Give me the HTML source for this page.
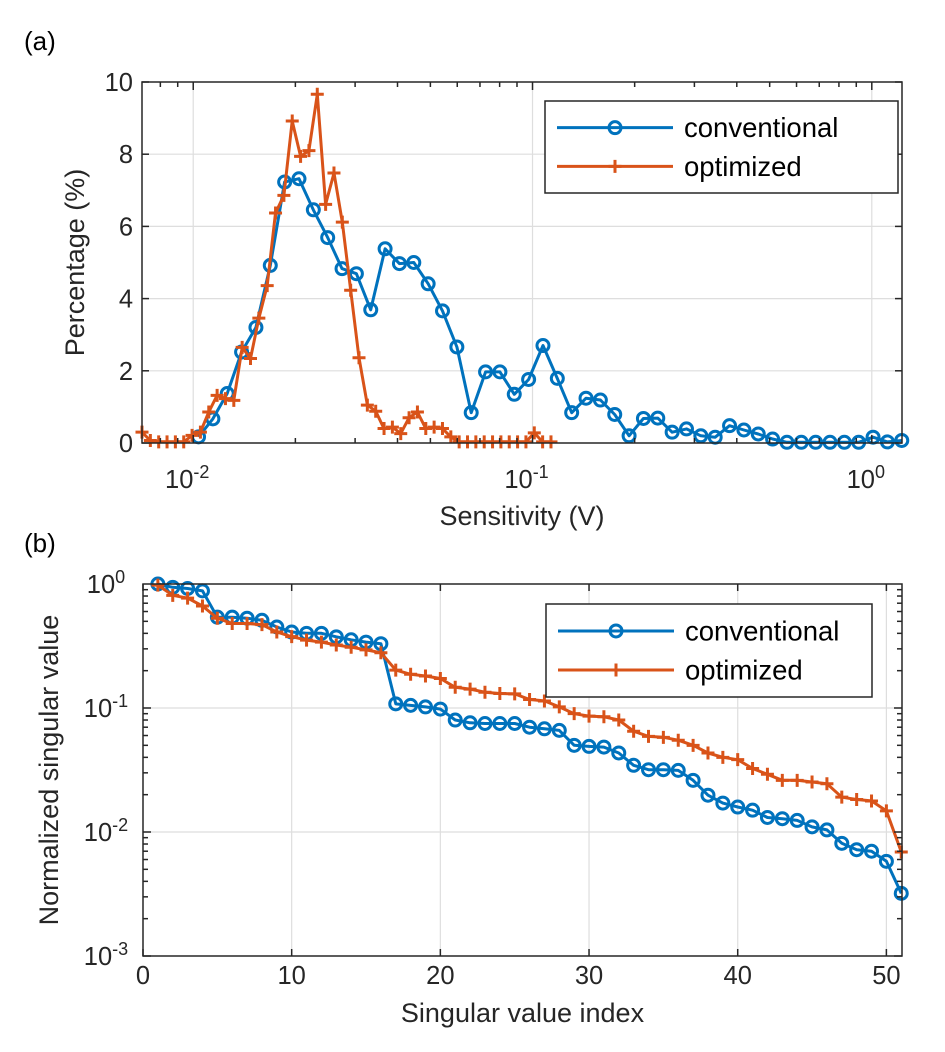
<!DOCTYPE html>
<html><head><meta charset="utf-8">
<style>
html,body{margin:0;padding:0;background:#fff;}
svg{display:block;font-family:"Liberation Sans",Arial,sans-serif;}
</style></head>
<body>
<svg id="fig" width="945" height="1052" viewBox="0 0 945 1052" xmlns="http://www.w3.org/2000/svg">
<rect width="945" height="1052" fill="#fff"/>
<text x="24" y="50" font-size="26" fill="#000">(a)</text>
<text x="24" y="552" font-size="26" fill="#000">(b)</text>
<g id="pa"></g>
<g id="pb"></g>
</svg>
<script>
// ---- Panel (a) data ----
const aConvStartLog = -1.9844, aConvStepLog = 0.0423;
const aOptStartLog = -2.151, aOptStepLog = 0.0246;
const aConv = [0.17,0.67,1.37,2.52,3.2,4.92,7.23,7.32,6.46,5.69,4.83,4.69,3.69,5.38,4.97,5.0,4.41,3.66,2.66,0.84,1.97,1.97,1.35,1.76,2.7,1.79,0.84,1.24,1.19,0.79,0.2,0.68,0.69,0.3,0.39,0.2,0.16,0.48,0.36,0.25,0.11,0.02,0.02,0.02,0.02,0.02,0.02,0.16,0.03,0.07];
const aOpt = [0.30,0.07,0.03,0.03,0.03,0.03,0.21,0.30,0.86,1.32,1.23,1.18,2.65,2.34,3.46,4.36,6.37,6.86,8.92,7.94,8.10,9.66,6.61,7.48,6.12,4.23,2.36,1.05,0.88,0.40,0.44,0.26,0.70,0.86,0.40,0.44,0.40,0.17,0.03,0.03,0.03,0.03,0.03,0.03,0.03,0.03,0.03,0.28,0.03,0.03];
const aYTicks = [0,2,4,6,8,10];
const aXTickExps = [-2,-1,0];
// ---- Panel (b) data ----
const bIndex = Array.from({length:51},(_,i)=>i+1);
const bConv = [1.0,0.94,0.92,0.88,0.54,0.54,0.53,0.51,0.45,0.41,0.40,0.40,0.375,0.355,0.34,0.33,0.108,0.105,0.102,0.098,0.080,0.076,0.075,0.075,0.075,0.070,0.068,0.066,0.050,0.049,0.0484,0.0434,0.0345,0.0318,0.0318,0.0314,0.0261,0.0198,0.0171,0.0159,0.0150,0.0131,0.0128,0.0124,0.0110,0.0104,0.0081,0.0072,0.0070,0.0058,0.0032];
const bOpt = [0.98,0.81,0.77,0.665,0.53,0.48,0.48,0.47,0.41,0.376,0.353,0.34,0.322,0.309,0.294,0.279,0.202,0.187,0.181,0.173,0.147,0.142,0.134,0.131,0.13,0.117,0.114,0.102,0.090,0.086,0.085,0.080,0.065,0.059,0.058,0.055,0.050,0.0434,0.040,0.0383,0.0325,0.0292,0.0261,0.0261,0.0253,0.0245,0.0191,0.0183,0.0178,0.0148,0.0069];
const bXTicks = [0,10,20,30,40,50];
const bYTickExps = [0,-1,-2,-3];

const NS="http://www.w3.org/2000/svg";
const BLUE="#0072BD", ORANGE="#D95319", AX="#262626", GRID="#dedede";
const TICKFS=25.5, TITLEFS=27, LEGFS=27.5;
function mk(tag, attrs, parent){const e=document.createElementNS(NS,tag);for(const k in attrs)e.setAttribute(k,attrs[k]);parent.appendChild(e);return e;}

function drawSeries(g, xs, ys, X, Y, color, marker, name){
  const sg=mk('g',{},g);
  
  
  const pts=xs.map((x,i)=>X(x).toFixed(1)+','+Y(ys[i]).toFixed(1)).join(' ');
  const pl=mk('polyline',{points:pts,fill:'none',stroke:color,'stroke-width':3,'stroke-linejoin':'round'},sg);
  
  
  xs.forEach((x,i)=>{
    const cx=X(x), cy=Y(ys[i]);
    let m;
    if(marker==='o'){ m=mk('circle',{cx:cx,cy:cy,r:6,fill:'none',stroke:color,'stroke-width':3},sg); }
    else { m=mk('path',{d:`M${cx-6.5},${cy}H${cx+6.5}M${cx},${cy-6.5}V${cy+6.5}`,stroke:color,'stroke-width':3,fill:'none'},sg); }
    
    
  });
}
function legend(g,x,y,w,h){
  const lg=mk('g',{},g);
  
  
  mk('rect',{x:x,y:y,width:w,height:h,fill:'#fff',stroke:AX,'stroke-width':1.5},lg);
  const rows=[[BLUE,'o','conventional'],[ORANGE,'+','optimized']];
  rows.forEach((r,i)=>{
    const e=mk('g',{},lg);
    
    
    const yy=y+h*(i===0?0.29:0.71);
    mk('line',{x1:x+12,y1:yy,x2:x+128,y2:yy,stroke:r[0],'stroke-width':3},e);
    const cx=x+70;
    if(r[1]==='o') mk('circle',{cx:cx,cy:yy,r:6,fill:'none',stroke:r[0],'stroke-width':3},e);
    else mk('path',{d:`M${cx-6.5},${yy}H${cx+6.5}M${cx},${yy-6.5}V${yy+6.5}`,stroke:r[0],'stroke-width':3},e);
    const t=mk('text',{x:x+139,y:yy+9.5,'font-size':LEGFS,fill:'#000'},e);
    t.textContent=r[2];
  });
}
function supText(g,x,y,exp,anchor,name){
  const t=mk('text',{x:x,y:y,'font-size':TICKFS,fill:AX,'text-anchor':anchor},g);
  
  
  const a=mk('tspan',{},t); a.textContent='10';
  const b=mk('tspan',{dy:-10,'font-size':18},t); b.textContent=String(exp);
}

// ---------- Panel A ----------
(function(){
  const g=document.getElementById('pa');
  const L=142,R=902,T=82,B=443;
  const lmin=-2.151, lmax=0.089;
  const X=l=>L+(l-lmin)/(lmax-lmin)*(R-L);
  const Y=v=>B-(v/10)*(B-T);
  aYTicks.forEach(v=>{ if(v>0&&v<10) mk('line',{x1:L,x2:R,y1:Y(v),y2:Y(v),stroke:GRID,'stroke-width':1.2},g);});
  aXTickExps.forEach(e=>mk('line',{x1:X(e),x2:X(e),y1:T,y2:B,stroke:GRID,'stroke-width':1.2},g));
  const xc=aConv.map((_,i)=>aConvStartLog+aConvStepLog*i);
  const xo=aOpt.map((_,i)=>aOptStartLog+aOptStepLog*i);
  drawSeries(g,xc,aConv,X,Y,BLUE,'o','conventional');
  drawSeries(g,xo,aOpt,X,Y,ORANGE,'+','optimized');
  mk('rect',{x:L,y:T,width:R-L,height:B-T,fill:'none',stroke:AX,'stroke-width':1.5},g);
  aYTicks.forEach(v=>{
    mk('line',{x1:L,x2:L+7,y1:Y(v),y2:Y(v),stroke:AX,'stroke-width':1.5},g);
    mk('line',{x1:R,x2:R-7,y1:Y(v),y2:Y(v),stroke:AX,'stroke-width':1.5},g);
    const t=mk('text',{x:L-9,y:Y(v)+9,'font-size':TICKFS,fill:AX,'text-anchor':'end'},g);
    
    
    t.textContent=v;
  });
  for(let d=-3; d<=0; d++){
    for(let k=1;k<=9;k++){
      const l=d+Math.log10(k); if(l<lmin||l>lmax) continue;
      const len=k===1?8:5;
      mk('line',{x1:X(l),x2:X(l),y1:B,y2:B-len,stroke:AX,'stroke-width':1.5},g);
      mk('line',{x1:X(l),x2:X(l),y1:T,y2:T+len,stroke:AX,'stroke-width':1.5},g);
    }
  }
  aXTickExps.forEach(e=>supText(g,X(e)-6,B+45,e===0?'0':e,'middle','x-tick-label'));
  const xl=mk('text',{x:(L+R)/2,y:525,'font-size':TITLEFS,fill:AX,'text-anchor':'middle'},g);
   
  xl.textContent='Sensitivity (V)';
  const yl=mk('text',{x:0,y:0,'font-size':TITLEFS,fill:AX,'text-anchor':'middle',transform:`translate(84,${(T+B)/2}) rotate(-90)`},g);
   
  yl.textContent='Percentage (%)';
  legend(g,545,101,353,92);
})();

// ---------- Panel B ----------
(function(){
  const g=document.getElementById('pb');
  const L=143,R=902,T=584,B=956;
  const xmax=51.05;
  const X=v=>L+v/xmax*(R-L);
  const Y=v=>T-Math.log10(v)/3*(B-T);
  bXTicks.forEach(v=>{ if(v>0) mk('line',{x1:X(v),x2:X(v),y1:T,y2:B,stroke:GRID,'stroke-width':1.2},g);});
  bYTickExps.forEach(e=>{ if(e<0&&e>-3) mk('line',{x1:L,x2:R,y1:Y(Math.pow(10,e)),y2:Y(Math.pow(10,e)),stroke:GRID,'stroke-width':1.2},g);});
  drawSeries(g,bIndex,bConv,X,Y,BLUE,'o','conventional');
  drawSeries(g,bIndex,bOpt,X,Y,ORANGE,'+','optimized');
  mk('rect',{x:L,y:T,width:R-L,height:B-T,fill:'none',stroke:AX,'stroke-width':1.5},g);
  bXTicks.forEach(v=>{
    mk('line',{x1:X(v),x2:X(v),y1:B,y2:B-7,stroke:AX,'stroke-width':1.5},g);
    mk('line',{x1:X(v),x2:X(v),y1:T,y2:T+7,stroke:AX,'stroke-width':1.5},g);
    const t=mk('text',{x:X(v),y:B+28,'font-size':TICKFS,fill:AX,'text-anchor':'middle'},g);
     
    t.textContent=v;
  });
  for(let d=-3; d<0; d++){
    for(let k=1;k<=9;k++){
      const y=Y(k*Math.pow(10,d));
      const len=k===1?8:5;
      mk('line',{x1:L,x2:L+len,y1:y,y2:y,stroke:AX,'stroke-width':1.5},g);
      mk('line',{x1:R,x2:R-len,y1:y,y2:y,stroke:AX,'stroke-width':1.5},g);
    }
  }
  bYTickExps.forEach(e=>supText(g,L-37,Y(Math.pow(10,e))+9,e===0?'0':e,'middle','y-tick-label'));
  const xl=mk('text',{x:(L+R)/2,y:1022,'font-size':TITLEFS,fill:AX,'text-anchor':'middle'},g);
   
  xl.textContent='Singular value index';
  const yl=mk('text',{x:0,y:0,'font-size':TITLEFS,fill:AX,'text-anchor':'middle',transform:`translate(58,${(T+B)/2}) rotate(-90)`},g);
   
  yl.textContent='Normalized singular value';
  legend(g,546,604,326,93);
})();
</script>
</body></html>
